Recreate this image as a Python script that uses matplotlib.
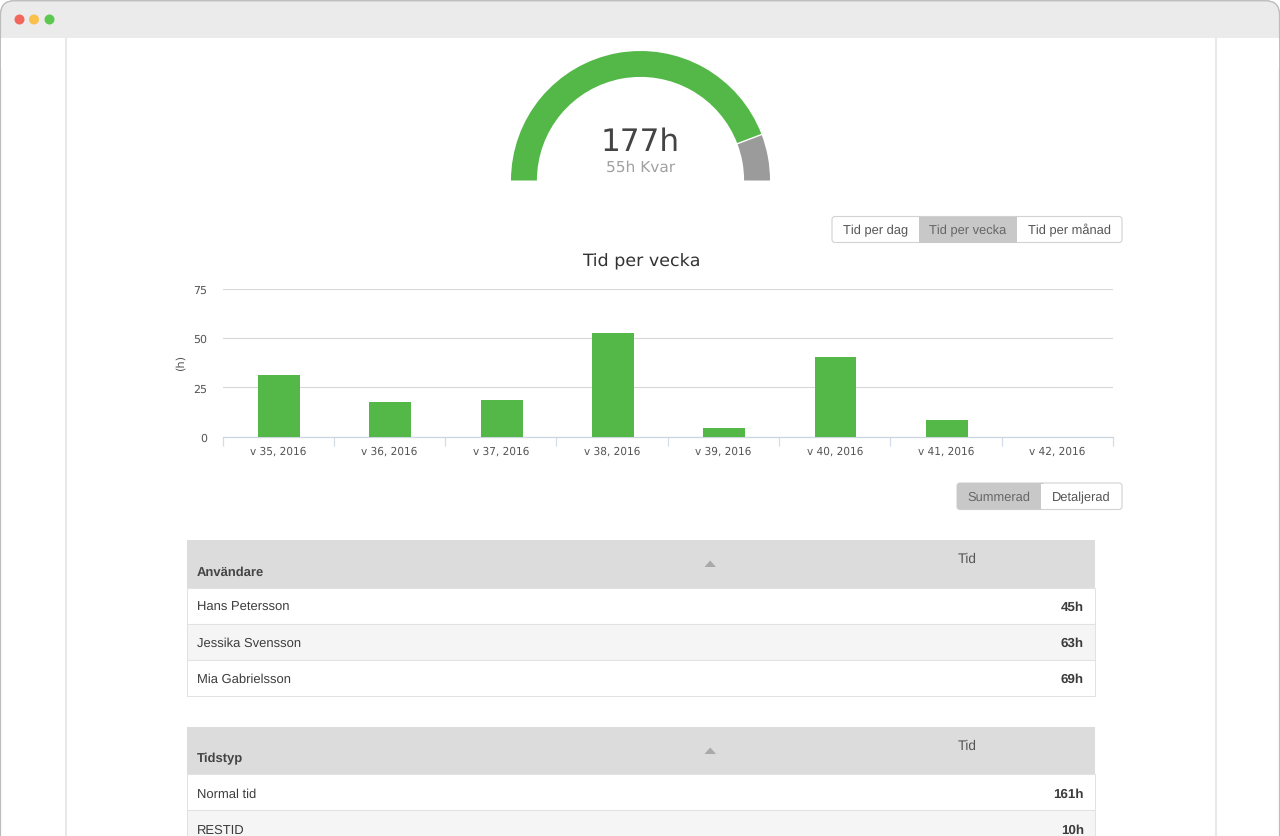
import math
import matplotlib
matplotlib.use("Agg")
import matplotlib.pyplot as plt
from matplotlib.patches import FancyBboxPatch, Rectangle, Circle, Polygon

plt.rcParams["text.hinting"] = "no_hinting"
plt.rcParams["text.hinting_factor"] = 8
plt.rcParams["text.kerning_factor"] = 6

# ---- data ----
gauge_value = "177h"
gauge_sub = "55h Kvar"
gauge_fractions = [159.2, 20.8]      # degrees of the half ring as drawn: used, left
weeks = ["v 35, 2016", "v 36, 2016", "v 37, 2016", "v 38, 2016",
         "v 39, 2016", "v 40, 2016", "v 41, 2016", "v 42, 2016"]
hours = [31.5, 17.4, 18.4, 52.4, 4.4, 40.3, 8.5, 0]
y_ticks = [0, 25, 50, 75]
period_buttons = ["Tid per dag", "Tid per vecka", "Tid per månad"]
view_buttons = ["Summerad", "Detaljerad"]
users = ["Hans Petersson", "Jessika Svensson", "Mia Gabrielsson"]
user_hours = ["45h", "63h", "69h"]
types = ["Normal tid", "RESTID"]
type_hours = ["161h", "10h"]

GREEN = "#54b848"
GREY = "#9b9b9b"
LINE = "#d2d2d2"
W, H = 1280, 837
SANS = ["Liberation Sans", "DejaVu Sans"]

fig = plt.figure(figsize=(W / 100, H / 100), dpi=100, facecolor="white")

# page chrome in pixel coordinates
bg = fig.add_axes([0, 0, 1, 1])
bg.set_xlim(0, W)
bg.set_ylim(H - 1, -1)
bg.axis("off")

bg.add_patch(FancyBboxPatch((0.5, 0.8), W - 1, H + 40, boxstyle="round,pad=0,rounding_size=14",
                            fc="white", ec="#bdbdbd", lw=0.9))
bg.add_patch(FancyBboxPatch((0.5, 0.8), W - 1, 60, boxstyle="round,pad=0,rounding_size=14",
                            fc="#ebebeb", ec="#bdbdbd", lw=0.9))
bg.add_patch(Rectangle((1, 38), W - 2, 30, fc="white", ec="none"))
for cx, c in zip([19.5, 34, 49.5], ["#f2665c", "#f9c04a", "#5cc84f"]):
    bg.add_patch(Circle((cx, 19.5), 5, fc=c, ec="none"))
for x in [65.5, 1216]:
    bg.plot([x, x], [38, H], color="#e2e2e2", lw=1.1, solid_capstyle="butt")

# gauge
cx, cy, r = 640.5, 181.5, 129.5
ga = fig.add_axes([(cx - r) / W, 1 - (cy + r) / H, 2 * r / W, 2 * r / H])
ga.pie(gauge_fractions + [180], colors=[GREEN, GREY, "none"], startangle=180,
       counterclock=False, radius=1, wedgeprops=dict(width=0.2, linewidth=0))
ga.set_xlim(-1, 1)
ga.set_ylim(-1, 1)
ga.axis("off")
a = math.radians(gauge_fractions[1])
ga.plot([0.8 * math.cos(a), 1.0 * math.cos(a)], [0.8 * math.sin(a), 1.0 * math.sin(a)],
        color="white", lw=1.0)
bg.text(640.5, 150, gauge_value, ha="center", va="baseline", fontsize=22.4, color="#444444",
        family="DejaVu Sans")
bg.text(640.5, 170.5, gauge_sub, ha="center", va="baseline", fontsize=11.1, color="#a0a0a0",
        family="DejaVu Sans")


def button_group(labels, edges, y0, y1, selected, baseline):
    bg.add_patch(FancyBboxPatch((edges[0], y0), edges[-1] - edges[0], y1 - y0,
                                boxstyle="round,pad=0,rounding_size=3",
                                fc="white", ec=LINE, lw=0.8, zorder=2))
    for i, lab in enumerate(labels):
        if i == selected:
            if i == 0:
                bg.add_patch(FancyBboxPatch((edges[0], y0), edges[1] - edges[0] + 4, y1 - y0,
                                            boxstyle="round,pad=0,rounding_size=3", fc="#c8c8c8",
                                            ec="none", zorder=3))
                bg.add_patch(Rectangle((edges[1], y0 + 0.5), 5, y1 - y0 - 1, fc="white", ec="none",
                                       zorder=3))
            else:
                bg.add_patch(Rectangle((edges[i], y0), edges[i + 1] - edges[i], y1 - y0,
                                       fc="#c8c8c8", ec="none", zorder=3))
        bg.text((edges[i] + edges[i + 1]) / 2, baseline, lab, ha="center", va="baseline",
                fontsize=9.3, family=SANS, zorder=5,
                color="#666666" if i == selected else "#555555")


button_group(period_buttons, [832, 918.5, 1017, 1122], 216.5, 242.5, 1, 233.5)
button_group(view_buttons, [957, 1041, 1122], 483, 509.5, 0, 499.8)

# chart
X0, X1, Y0, Y1 = 222.5, 1113, 437.8, 289.8
ax = fig.add_axes([X0 / W, 1 - Y0 / H, (X1 - X0) / W, (Y0 - Y1) / H])
ax.patch.set_alpha(0)
ax.bar([i + 0.008 for i in range(len(weeks))], hours, width=0.375, color=GREEN, zorder=3)
ax.set_xlim(-0.5, len(weeks) - 0.5)
ax.set_ylim(0, 75)
ax.set_yticks(y_ticks)
ax.set_xticks(range(len(weeks)))
ax.set_xticklabels(weeks, fontsize=7.6, color="#555555", family="DejaVu Sans")
ax.set_xticks([i - 0.5 for i in range(len(weeks) + 1)], minor=True)
ax.tick_params(axis="x", which="major", length=0, pad=6.5)
ax.tick_params(axis="x", which="minor", length=6.5, color="#d3dde8", width=0.9)
ax.tick_params(axis="y", length=0, pad=10.8, labelsize=7.9, labelcolor="#555555")
ax.grid(axis="y", color="#d8d8d8", lw=0.8, zorder=0)
for s in ["top", "right", "left"]:
    ax.spines[s].set_visible(False)
ax.spines["bottom"].set_color("#ccd6e0")
ax.spines["bottom"].set_linewidth(0.9)
ax.set_ylabel("(h)", fontsize=8.2, color="#555555", labelpad=0)
ax.yaxis.set_label_coords((186 - X0) / (X1 - X0), (Y0 - 363) / (Y0 - Y1))
bg.text(641.5, 261, "Tid per vecka", ha="center", va="center", fontsize=12.6, color="#333333",
        family="DejaVu Sans")


def table(top, head, names, vals):
    x0, x1 = 187, 1095
    bg.add_patch(Rectangle((x0, top), x1 - x0, 47.5, fc="#dcdcdc", ec="none"))
    bg.text(197, top + 34.5, head, fontsize=9.4, fontweight="bold", color="#444444", family=SANS,
            va="baseline")
    bg.text(958, top + 21.5, "Tid", fontsize=9.8, color="#555555", family=SANS, va="baseline")
    bg.add_patch(Polygon([[704.5, top + 27], [716, top + 27], [710.2, top + 20.5]],
                         fc="#a9a9a9", ec="none"))
    for i, (n, v) in enumerate(zip(names, vals)):
        y = top + 47.5 + 36 * i
        bg.add_patch(Rectangle((x0, y), x1 - x0, 36, fc="#f5f5f5" if i % 2 else "white",
                               ec="#e2e2e2", lw=0.75))
        bg.text(197, y + 22.7, n, fontsize=9.4, color="#3c3c3c", family=SANS, va="baseline")
        bg.text(1084, y + 22.7, v, fontsize=9.6, fontweight="bold", color="#3c3c3c", family=SANS,
                va="baseline", ha="right")


table(540, "Användare", users, user_hours)
table(727, "Tidstyp", types, type_hours)

fig.savefig("out.png", dpi=100, facecolor="white")
